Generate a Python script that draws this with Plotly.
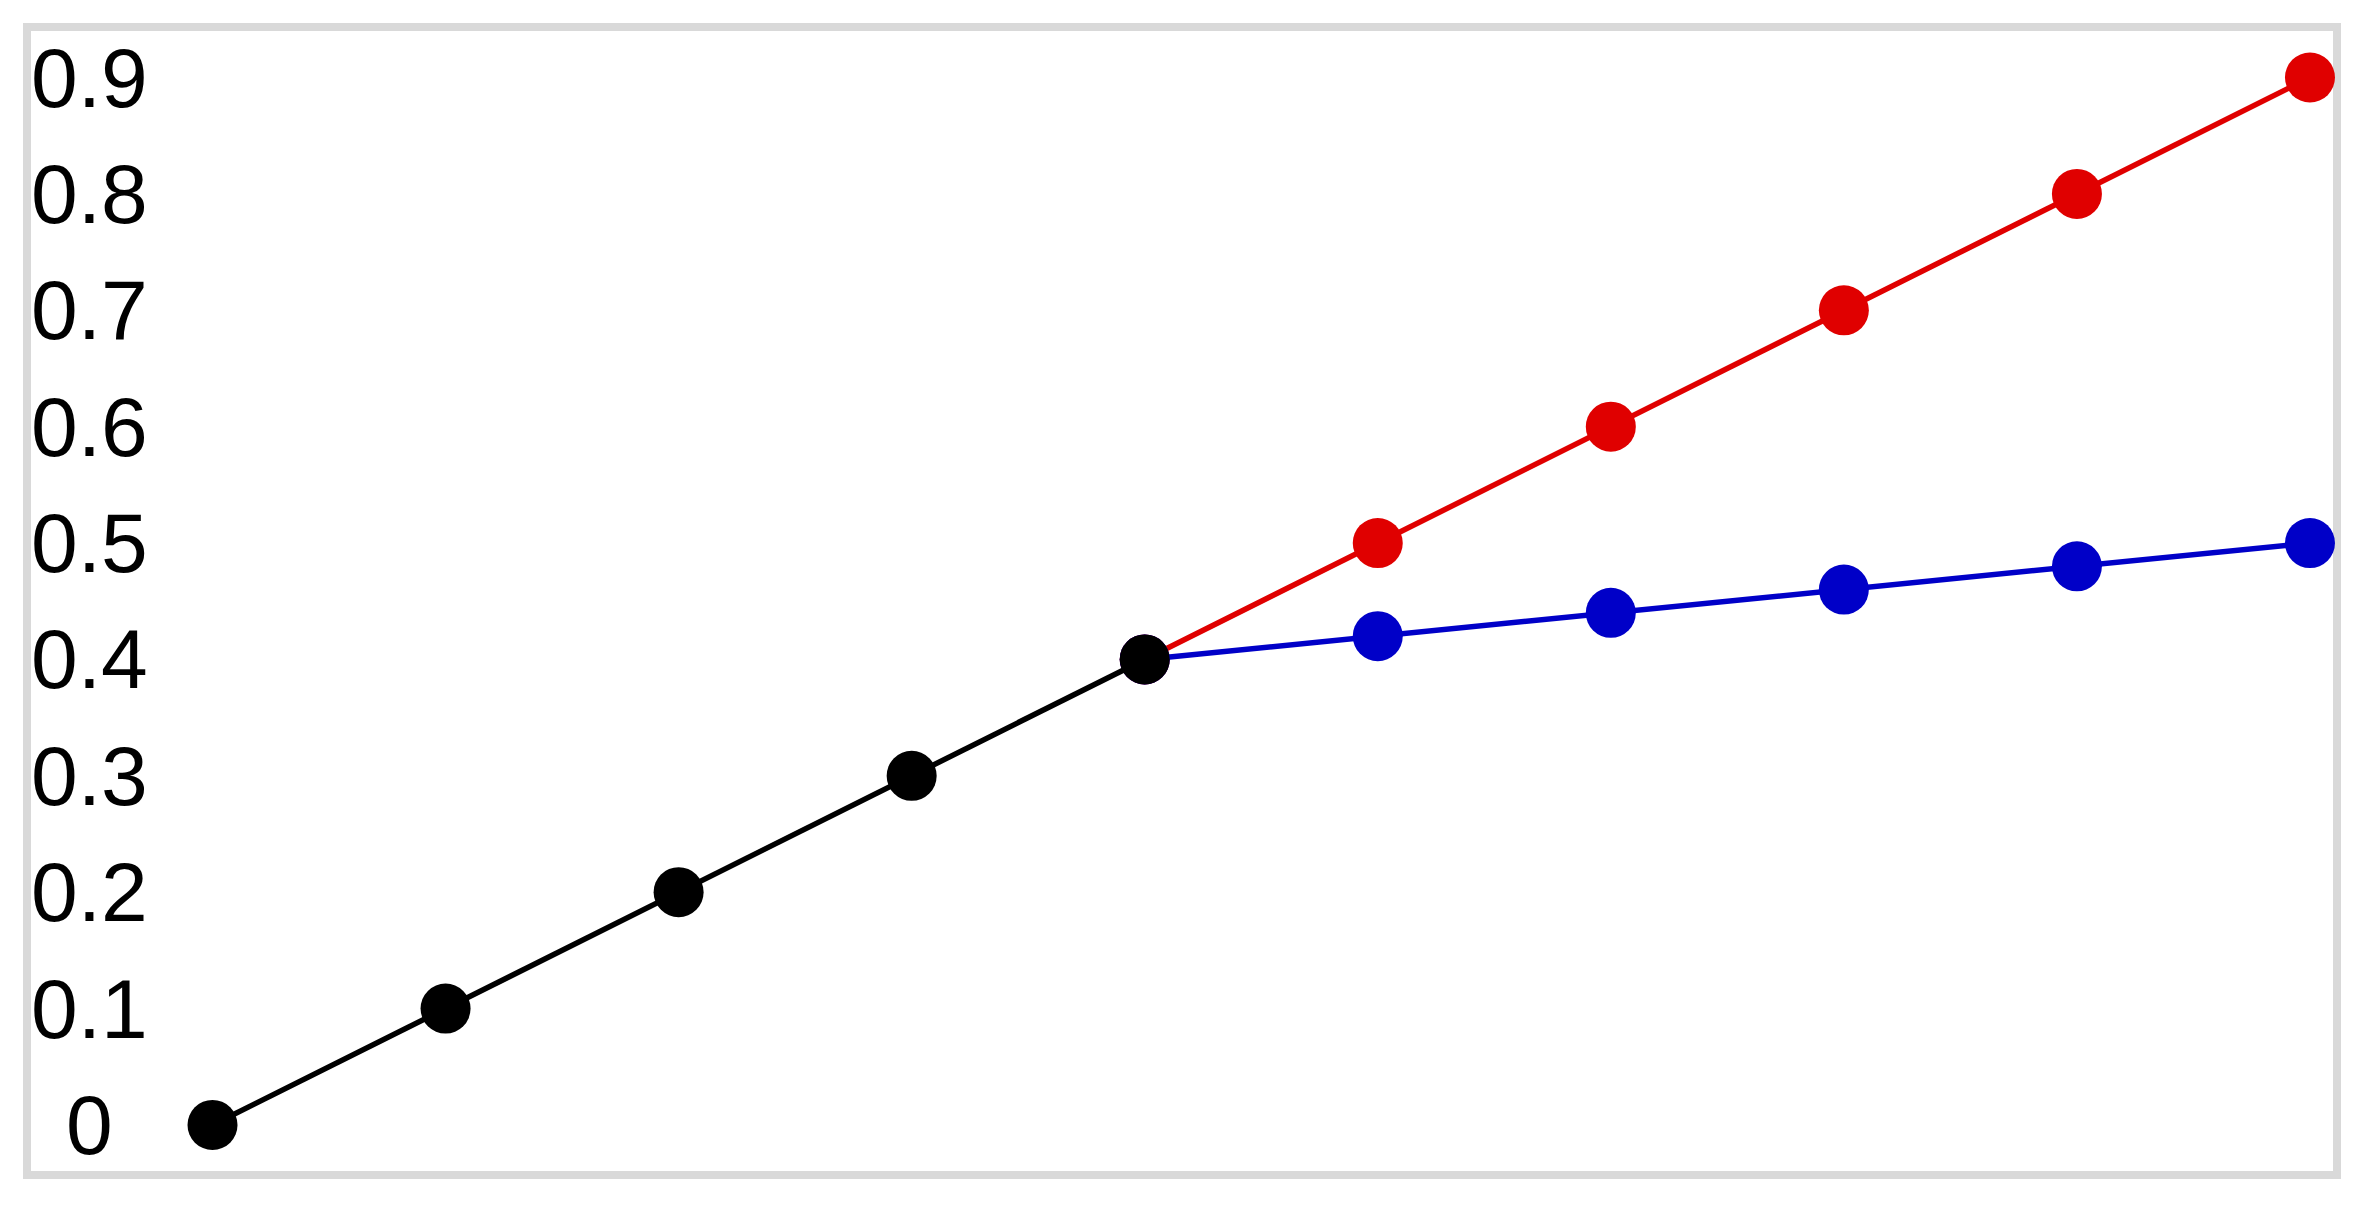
import plotly.graph_objects as go

# Data
x_base = [0, 1, 2, 3, 4]
y_base = [0.0, 0.1, 0.2, 0.3, 0.4]
x_branch = [4, 5, 6, 7, 8, 9]
y_red = [0.4, 0.5, 0.6, 0.7, 0.8, 0.9]
y_blue = [0.4, 0.42, 0.44, 0.46, 0.48, 0.50]
tick_vals = [0, 0.1, 0.2, 0.3, 0.4, 0.5, 0.6, 0.7, 0.8, 0.9]
tick_text = ["0", "0.1", "0.2", "0.3", "0.4", "0.5", "0.6", "0.7", "0.8", "0.9"]

W, H = 2374, 1205
OFF = 8  # browser body margin
ML, MR, MT, MB = 26.5 - OFF, 37 + OFF, 26.5 - OFF, 30 + OFF
plot_w = W - ML - MR

LW = 5.5
MS = 50

fig = go.Figure()
fig.add_trace(go.Scatter(x=x_branch, y=y_red, mode="lines+markers",
                         line=dict(color="#e00000", width=LW),
                         marker=dict(color="#e00000", size=MS, line=dict(width=0))))
fig.add_trace(go.Scatter(x=x_branch, y=y_blue, mode="lines+markers",
                         line=dict(color="#0000c8", width=LW),
                         marker=dict(color="#0000c8", size=MS, line=dict(width=0))))
fig.add_trace(go.Scatter(x=x_base, y=y_base, mode="lines+markers",
                         line=dict(color="#000000", width=LW),
                         marker=dict(color="#000000", size=MS, line=dict(width=0))))

label_x = (89 - OFF - ML) / plot_w
for v, t in zip(tick_vals, tick_text):
    fig.add_annotation(x=label_x, xref="paper", y=v, yref="y", text=t,
                       showarrow=False, xanchor="center", yanchor="middle",
                       font=dict(family="Liberation Sans, Arial", size=84, color="#000000"))

fig.add_shape(type="rect", xref="paper", yref="paper", x0=0, x1=1, y0=0, y1=1,
              line=dict(color="#d9d9d9", width=8), fillcolor="rgba(0,0,0,0)", layer="below")

fig.update_layout(
    width=W, height=H,
    margin=dict(l=ML, r=MR, t=MT, b=MB),
    paper_bgcolor="white", plot_bgcolor="white",
    showlegend=False,
    xaxis=dict(range=[-0.796, 9.116], visible=False, showgrid=False, zeroline=False),
    yaxis=dict(range=[-0.043, 0.9434], showticklabels=False, showgrid=False,
               zeroline=False, ticks=""),
)

fig.write_html("out.html")
